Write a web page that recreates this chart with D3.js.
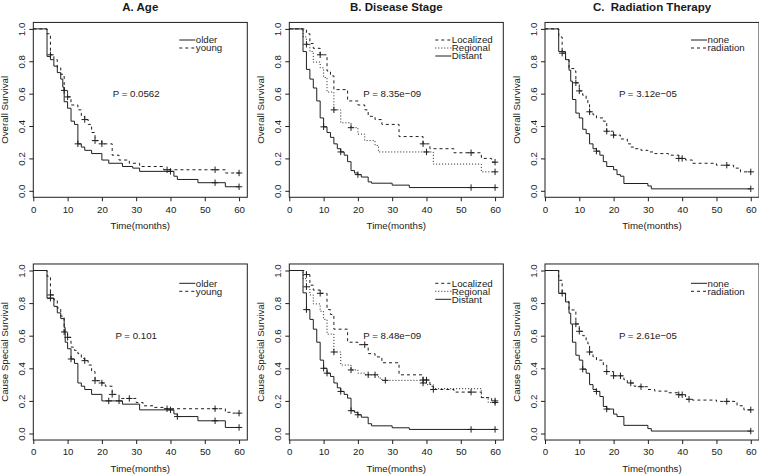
<!DOCTYPE html>
<html>
<head>
<meta charset="utf-8">
<script src="https://cdn.jsdelivr.net/npm/d3@7"></script>
<style>
  body { margin: 0; background: #fff; }
  svg text { font-family: "Liberation Sans", Arial, sans-serif; fill: #1a1a1a; white-space: pre; }
</style>
</head>
<body>
<div class="svg-container"></div>
<script>
// tick labels
var xTicks = [0, 10, 20, 30, 40, 50, 60];
var yTicks = [0, 0.2, 0.4, 0.6, 0.8, 1.0];
var yTickLabels = ["0.0", "0.2", "0.4", "0.6", "0.8", "1.0"];

// ---- overall survival, age
var osOlder = [[0,1],[4,0.83],[5,0.81],[6,0.77],[7,0.73],[8,0.69],[8.6,0.64],[9,0.55],[10,0.51],[11,0.43],[12,0.41],[13,0.29],[14,0.27],[15,0.25],[17,0.23],[20,0.19],[22,0.17],[26,0.15],[29,0.14],[31,0.12],[41,0.09],[42,0.07],[48,0.05],[56,0.025],[60,0.025]];
var osOlderCens = [13, 40, 53, 60];
var osYoung = [[0,1],[4,0.97],[5,0.84],[6,0.81],[7,0.76],[8,0.72],[9,0.62],[10,0.58],[11,0.53],[13,0.50],[14,0.46],[15,0.44],[16,0.41],[17,0.36],[18,0.31],[20,0.29],[23,0.22],[25,0.19],[28,0.17],[31,0.15],[38,0.13],[56,0.11],[60,0.11]];
var osYoungCens = [5, 9, 10, 15, 18, 20, 39, 53, 60];

// ---- overall survival, stage
var osLocal = [[0,1],[5,0.97],[6,0.91],[7,0.88],[9,0.84],[11,0.74],[12,0.71],[13,0.625],[17,0.555],[20,0.53],[22,0.50],[23,0.46],[25,0.44],[27,0.41],[32,0.335],[39,0.29],[41,0.26],[48,0.235],[56,0.20],[59,0.177],[60,0.177]];
var osLocalCens = [9, 39, 53, 60];
var osRegion = [[0,1],[4,0.95],[5,0.905],[6,0.86],[7,0.795],[9,0.76],[10,0.70],[11,0.61],[13,0.50],[15,0.42],[18,0.39],[20,0.35],[22,0.31],[25,0.28],[26,0.24],[42,0.165],[56,0.117],[60,0.117]];
var osRegionCens = [5, 13, 18, 40, 60];
var osDistant = [[0,1],[4,0.86],[5,0.75],[6,0.69],[7,0.635],[8,0.555],[9,0.45],[10,0.395],[11,0.36],[12,0.33],[13,0.29],[14,0.26],[15,0.24],[16,0.22],[17,0.18],[18,0.125],[19,0.11],[20,0.10],[21,0.085],[23,0.055],[24,0.047],[30,0.035],[35,0.02],[60,0.02]];
var osDistantCens = [10, 15, 20, 53, 60];

// ---- overall survival, radiation
var osNone = [[0,1],[4,0.86],[6,0.81],[7,0.745],[7.5,0.677],[8,0.564],[9,0.48],[10,0.45],[11,0.38],[12,0.353],[13,0.29],[14,0.26],[15,0.245],[16,0.22],[17,0.18],[18,0.15],[20,0.13],[21,0.10],[22,0.09],[23,0.045],[30,0.03],[31,0.012],[60,0.012]];
var osNoneCens = [15, 60];
var osRad = [[0,1],[4,0.95],[5,0.85],[6,0.81],[7,0.755],[8.5,0.74],[9,0.667],[10,0.617],[11,0.59],[12,0.56],[12.5,0.54],[13,0.488],[14,0.47],[15,0.45],[17,0.43],[18,0.368],[20,0.344],[22,0.32],[24,0.29],[25,0.27],[26,0.26],[28,0.25],[30,0.24],[32,0.23],[36,0.22],[39,0.20],[41,0.19],[43,0.17],[50,0.158],[55,0.14],[57,0.117],[60,0.117]];
var osRadCens = [5, 9, 10, 13, 18, 20, 39, 40, 53, 60];

// ---- cause special survival, age
var cssOlder = [[0,1],[4,0.83],[6,0.78],[7,0.74],[8,0.705],[9,0.65],[9.3,0.56],[10,0.52],[11,0.457],[12,0.43],[13,0.31],[14,0.29],[15,0.27],[17,0.24],[20,0.20],[26,0.18],[31,0.145],[41,0.12],[42,0.104],[48,0.078],[56,0.037],[60,0.037]];
var cssOlderCens = [5, 11, 22, 25, 40, 42, 53, 60];
var cssYoung = [[0,1],[4,0.965],[5,0.85],[6,0.82],[7,0.77],[8,0.72],[9,0.623],[10,0.59],[11,0.53],[12,0.51],[13,0.49],[14,0.46],[15,0.447],[16,0.42],[17,0.38],[18,0.324],[20,0.31],[21,0.29],[23,0.24],[25,0.215],[30,0.19],[32,0.17],[35,0.16],[38,0.152],[56,0.13],[58,0.125],[60,0.125]];
var cssYoungCens = [5, 9, 10, 15, 18, 20, 23, 28, 39, 53, 60];

// ---- cause special survival, stage
var cssLocal = [[0,1],[5,0.975],[6,0.91],[7,0.88],[9,0.86],[11,0.76],[12,0.73],[13,0.64],[17,0.56],[20,0.545],[23,0.49],[25,0.47],[27,0.434],[32,0.36],[39,0.328],[41,0.29],[42,0.27],[48,0.254],[56,0.22],[59,0.2],[60,0.2]];
var cssLocalCens = [5, 9, 22, 39, 40, 42, 53, 60];
var cssRegion = [[0,1],[4,0.95],[5,0.9],[6,0.85],[7,0.795],[9,0.75],[10,0.70],[11,0.61],[13,0.50],[15,0.42],[18,0.39],[20,0.37],[22,0.36],[26,0.34],[27,0.326],[39,0.31],[40,0.30],[42,0.275],[56,0.22],[58,0.19],[60,0.19]];
var cssRegionCens = [5, 13, 18, 23, 25, 28, 39, 60];
var cssDistant = [[0,1],[4,0.863],[5,0.76],[6,0.70],[7,0.64],[8,0.56],[9,0.45],[10,0.40],[11,0.37],[12,0.35],[13,0.31],[14,0.28],[15,0.258],[16,0.24],[17,0.217],[18,0.14],[19,0.13],[20,0.115],[21,0.10],[23,0.06],[24,0.047],[30,0.035],[35,0.025],[60,0.025]];
var cssDistantCens = [5, 10, 11, 15, 18, 20, 53, 60];

// ---- cause special survival, radiation
var cssNone = [[0,1],[4,0.86],[6,0.807],[7,0.738],[7.5,0.672],[8,0.56],[9,0.48],[10,0.45],[11,0.395],[12,0.37],[13,0.30],[14,0.27],[15,0.258],[16,0.227],[17,0.166],[18,0.15],[20,0.119],[21,0.104],[23,0.05],[30,0.03],[31,0.015],[60,0.015]];
var cssNoneCens = [11, 15, 18, 60];
var cssRad = [[0,1],[4,0.94],[5,0.86],[6,0.81],[7,0.758],[9,0.672],[10,0.627],[11,0.60],[12,0.57],[12.5,0.55],[13,0.50],[14,0.47],[15,0.45],[17,0.42],[18,0.38],[20,0.354],[23,0.33],[24,0.31],[26,0.29],[28,0.287],[30,0.27],[32,0.26],[36,0.25],[39,0.238],[41,0.21],[43,0.205],[50,0.197],[56,0.17],[58,0.145],[60,0.145]];
var cssRadCens = [5, 9, 10, 13, 18, 20, 22, 25, 28, 39, 40, 42, 53, 60];

var titles = ["A. Age", "B. Disease Stage", "C.  Radiation Therapy"];
var yTitles = ["Overall Survival", "Cause Special Survival"];
var pValues = [["P = 0.0562", "P = 8.35e\u221209", "P = 3.12e\u221205"],
               ["P = 0.101", "P = 8.48e\u221209", "P = 2.61e\u221205"]];
var legendNames = [["older", "young"], ["Localized", "Regional", "Distant"], ["none", "radiation"]];

var DASH = {solid: null, dashed: "3,3", dotted: "1,2"};
var panels = [
  [ [[osOlder, osOlderCens, "solid"], [osYoung, osYoungCens, "dashed"]],
    [[osLocal, osLocalCens, "dashed"], [osRegion, osRegionCens, "dotted"], [osDistant, osDistantCens, "solid"]],
    [[osNone, osNoneCens, "solid"], [osRad, osRadCens, "dashed"]] ],
  [ [[cssOlder, cssOlderCens, "solid"], [cssYoung, cssYoungCens, "dashed"]],
    [[cssLocal, cssLocalCens, "dashed"], [cssRegion, cssRegionCens, "dotted"], [cssDistant, cssDistantCens, "solid"]],
    [[cssNone, cssNoneCens, "solid"], [cssRad, cssRadCens, "dashed"]] ]
];

var colLeft = [33.3, 289.3, 545];
var plotW = 214;
var rowY = [{y1: 190.8, y0: 28.9}, {y1: 433.5, y0: 270.5}];   // y for 0 and 1
var legendY = [40, 283.3];
var ink = "#1f1f1f";
var fs = "9.7px";

var svg1 = d3.select("body").select(".svg-container").append("svg")
    .attr("width", 759)
    .attr("height", 474);

function survAt(curve, t) {
  var s = curve[0][1];
  curve.forEach(function(p){ if (p[0] <= t) s = p[1]; });
  return s;
}

for (var r = 0; r < 2; r++) {
  for (var c = 0; c < 3; c++) {
    var left = colLeft[c];
    var x = d3.scaleLinear().domain([0, 62.4]).range([left, left + plotW]);
    var y = d3.scaleLinear().domain([0, 1]).range([rowY[r].y1, rowY[r].y0]);
    var g = svg1.append("g");

    // box
    g.append("rect")
      .attr("x", x(0)).attr("y", y(1.04))
      .attr("width", x(62.4) - x(0)).attr("height", y(-0.04) - y(1.04))
      .attr("fill", "none").attr("stroke", ink).attr("stroke-width", 1);

    // axes
    var xa = g.append("g").attr("transform", "translate(0," + y(-0.04) + ")")
      .call(d3.axisBottom(x).tickValues(xTicks).tickSize(4).tickPadding(4.5));
    xa.select(".domain").remove();
    xa.selectAll("line").attr("stroke", ink);
    xa.selectAll("text").attr("font-size", fs).attr("fill", ink).style("font-family", null);

    var ya = g.append("g").attr("transform", "translate(" + x(0) + ",0)")
      .call(d3.axisLeft(y).tickValues(yTicks).tickSize(4).tickFormat(function(d, i){ return yTickLabels[i]; }));
    ya.select(".domain").remove();
    ya.selectAll("line").attr("stroke", ink);
    ya.selectAll("text")
      .attr("font-size", fs).attr("fill", ink)
      .attr("text-anchor", "middle")
      .attr("x", 0).attr("y", 0).attr("dy", "0.35em")
      .attr("transform", "translate(-11.6,0) rotate(-90)");

    // axis titles
    g.append("text")
      .attr("x", (x(0) + x(62.4)) / 2)
      .attr("y", y(-0.04) + 31.5)
      .attr("text-anchor", "middle")
      .attr("font-size", fs)
      .text("Time(months)");
    g.append("text")
      .attr("transform", "translate(" + (x(0) - 28.3) + "," + ((y(1.04) + y(-0.04)) / 2) + ") rotate(-90)")
      .attr("dy", "0.35em")
      .attr("text-anchor", "middle")
      .attr("font-size", fs)
      .text(yTitles[r]);

    if (r == 0) {
      g.append("text")
        .attr("x", (x(0) + x(62.4)) / 2)
        .attr("y", 10.5)
        .attr("text-anchor", "middle")
        .attr("font-size", "11.5px")
        .attr("font-weight", "bold")
        .text(titles[c]);
    }

    // curves + censor marks
    var line = d3.line().x(function(d){ return x(d[0]); }).y(function(d){ return y(d[1]); })
      .curve(d3.curveStepAfter);
    panels[r][c].forEach(function(s) {
      g.append("path")
        .attr("d", line(s[0]))
        .attr("fill", "none")
        .attr("stroke", ink)
        .attr("stroke-width", 1)
        .attr("stroke-dasharray", DASH[s[2]]);
      s[1].forEach(function(t) {
        var cx = x(t), cy = y(survAt(s[0], t));
        g.append("path")
          .attr("d", "M" + (cx - 3.2) + "," + cy + "H" + (cx + 3.2) + "M" + cx + "," + (cy - 3.2) + "V" + (cy + 3.2))
          .attr("stroke", ink).attr("stroke-width", 1);
      });
    });

    // p value
    g.append("text")
      .attr("x", x(30)).attr("y", y(0.6))
      .attr("dy", "0.35em")
      .attr("text-anchor", "middle")
      .attr("font-size", fs)
      .text(pValues[r][c]);

    // legend
    var right = x(62.4);
    panels[r][c].forEach(function(s, i) {
      var ly = legendY[r] + i * 8;
      g.append("line")
        .attr("x1", right - 68).attr("x2", right - 52)
        .attr("y1", ly).attr("y2", ly)
        .attr("stroke", ink).attr("stroke-width", 1)
        .attr("stroke-dasharray", DASH[s[2]]);
      g.append("text")
        .attr("x", right - 51.5).attr("y", ly)
        .attr("dy", "0.35em")
        .attr("font-size", fs)
        .text(legendNames[c][i]);
    });
  }
}
</script>
</body>
</html>
